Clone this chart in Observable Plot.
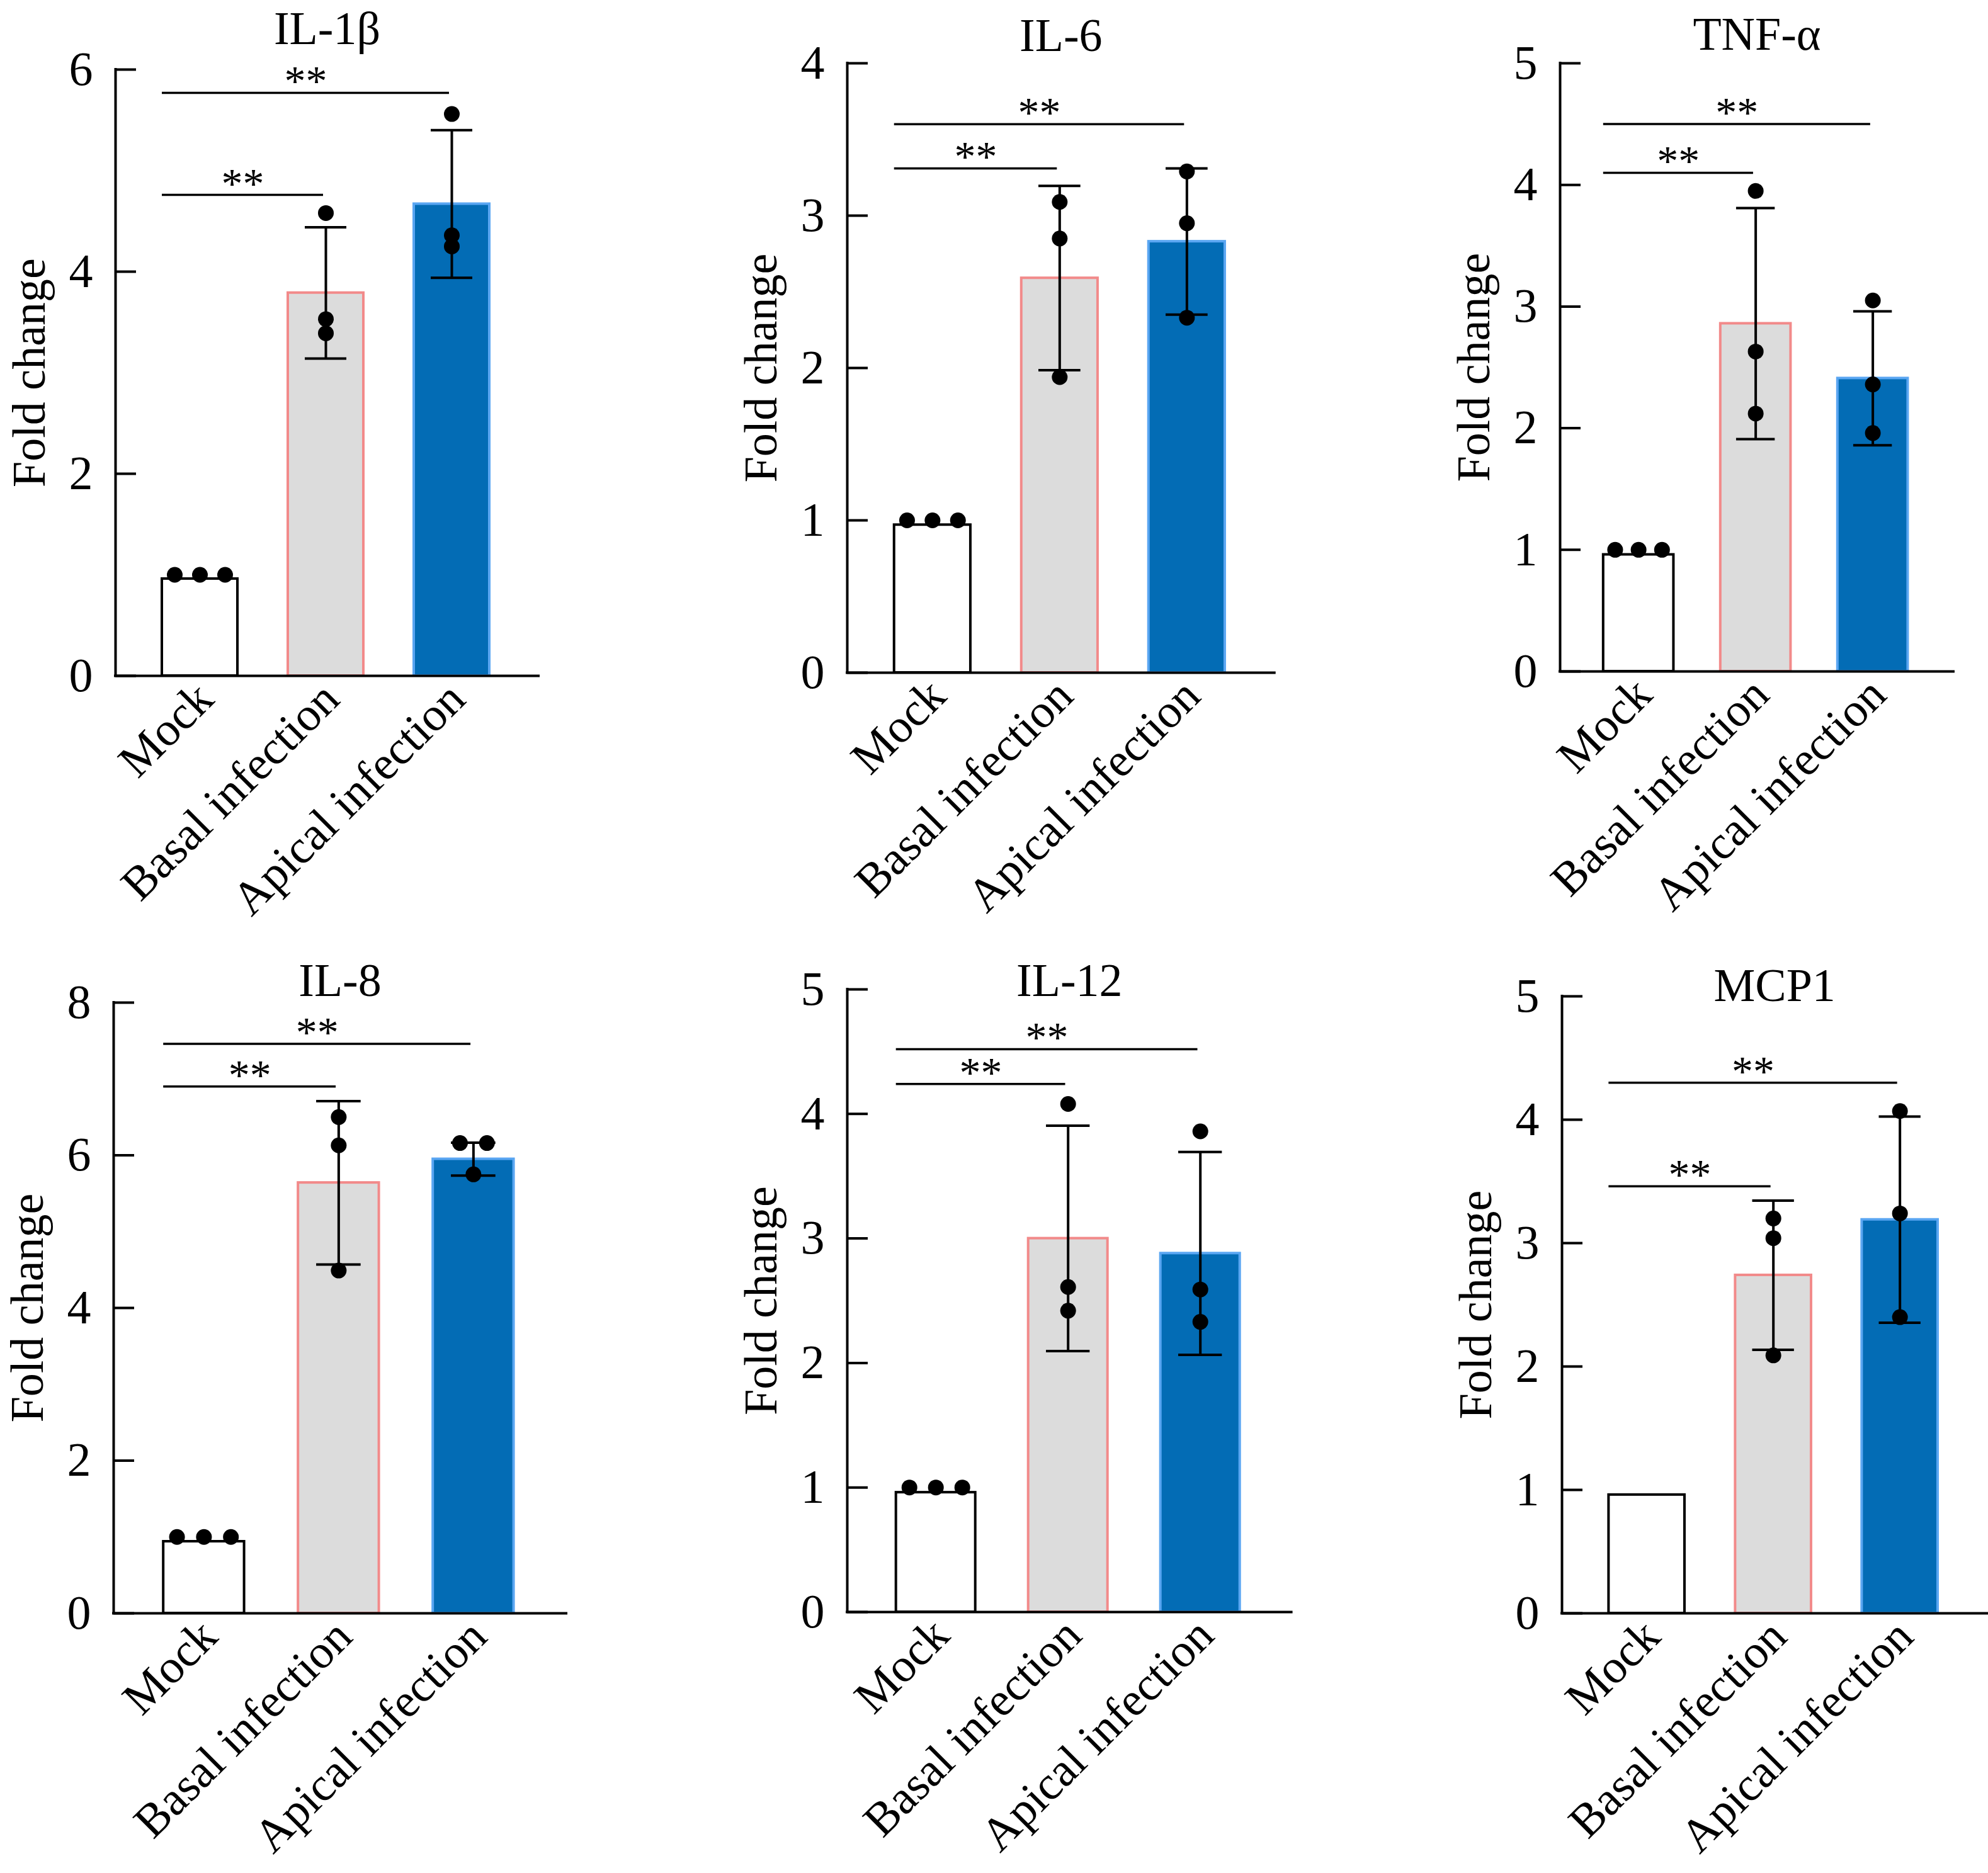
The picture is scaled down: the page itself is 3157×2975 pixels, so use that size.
<!DOCTYPE html>
<html><head><meta charset="utf-8">
<script src="https://cdn.jsdelivr.net/npm/d3@7"></script>
<script src="https://cdn.jsdelivr.net/npm/@observablehq/plot@0.6"></script>
<style>
html,body{margin:0;padding:0;background:#fff;}
#fig{position:relative;width:3157px;height:2975px;background:#fff;overflow:hidden;}
#fig svg{position:absolute;overflow:visible;max-width:none;}
</style></head><body><div id="fig"></div>
<script>
// ---------- data ----------
const categories = ["Mock", "Basal infection", "Apical infection"];
const cytokines = ["IL-1β", "IL-6", "TNF-α", "IL-8", "IL-12", "MCP1"];
const yMax = [6, 4, 5, 8, 5, 5];
const yTicks = [[0,2,4,6],[0,1,2,3,4],[0,1,2,3,4,5],[0,2,4,6,8],[0,1,2,3,4,5],[0,1,2,3,4,5]];
// bar heights (mean fold change) per cytokine: [Mock, Basal, Apical]
const means = [
  [0.96, 3.79, 4.67],
  [0.97, 2.59, 2.83],
  [0.96, 2.86, 2.41],
  [0.94, 5.64, 5.95],
  [0.96, 3.00, 2.88],
  [0.96, 2.74, 3.19]
];
// error bar half-lengths (SD)
const sds = [
  [0, 0.65, 0.73],
  [0, 0.605, 0.48],
  [0, 0.95, 0.55],
  [0, 1.07, 0.215],
  [0, 0.905, 0.815],
  [0, 0.605, 0.835]
];
// individual replicates
const replicates = [
  [[1, 1, 1], [4.58, 3.53, 3.39], [5.56, 4.36, 4.25]],
  [[1, 1, 1], [3.09, 2.85, 1.94], [3.29, 2.95, 2.33]],
  [[1, 1, 1], [3.95, 2.63, 2.12], [3.05, 2.36, 1.96]],
  [[1, 1, 1], [6.50, 6.13, 4.49], [6.16, 6.16, 5.75]],
  [[1, 1, 1], [4.08, 2.61, 2.42], [3.86, 2.59, 2.33]],
  [[], [3.20, 3.04, 2.09], [4.07, 3.24, 2.40]]
];
// significance bracket levels: [Mock vs Basal, Mock vs Apical]
const sigPairs = [[0, 1], [0, 2]];
const sigLevels = [[4.76, 5.77], [3.31, 3.60], [4.10, 4.50], [6.90, 7.46], [4.24, 4.52], [3.46, 4.30]];
const sigText = "**";

// ---------- styling / layout ----------
const fills = ["#ffffff", "#dcdcdc", "#036cb5"];
const strokes = ["#000000", "#f28a8a", "#5aa6f2"];
const layout = [
  {left: 183,  top: 110,  bottom: 1073, step: 200, title: 69},
  {left: 1345, top: 100,  bottom: 1068, step: 202, title: 81},
  {left: 2477, top: 100,  bottom: 1066, step: 186, title: 79},
  {left: 180,  top: 1592, bottom: 2562, step: 214, title: 1582},
  {left: 1345, top: 1571, bottom: 2560, step: 210, title: 1582},
  {left: 2480, top: 1582, bottom: 2562, step: 201, title: 1589}
];
const xDomain = [-0.67, 2.69];
const FONT = "'Liberation Serif', 'Times New Roman', Times, serif";
const mL = 200, mR = 4, mT = 140, mB = 460;

function spread(vals, pxPerUnit) {
  const off = vals.map(() => 0);
  if (!vals.length) return off;
  const idx = vals.map((v, k) => k).sort((a, b) => vals[a] - vals[b]);
  let cluster = [idx[0]];
  const flush = () => { const n = cluster.length; cluster.forEach((k, j) => off[k] = (j - (n - 1) / 2) * 0.2); };
  for (let j = 1; j < idx.length; j++) {
    if ((vals[idx[j]] - vals[cluster[cluster.length - 1]]) * pxPerUnit < 14) cluster.push(idx[j]);
    else { flush(); cluster = [idx[j]]; }
  }
  flush();
  return off;
}

const fig = document.getElementById("fig");
cytokines.forEach((name, p) => {
  const L = layout[p];
  const fw = (xDomain[1] - xDomain[0]) * L.step;
  const fh = L.bottom - L.top;
  const ppu = fh / yMax[p];
  const bars = categories.map((c, i) => ({i, mean: means[p][i], sd: sds[p][i]}));
  const errs = bars.filter(d => d.sd > 0);
  const caps = errs.flatMap(d => [{i: d.i, y: d.mean + d.sd}, {i: d.i, y: d.mean - d.sd}]);
  const dots = [];
  replicates[p].forEach((vals, i) => {
    const off = spread(vals, ppu);
    vals.forEach((v, k) => dots.push({x: i + off[k], v}));
  });
  const sig = sigPairs.map((pr, k) => ({from: pr[0], to: pr[1], y: sigLevels[p][k]}));

  const chart = Plot.plot({
    width: fw + mL + mR, height: fh + mT + mB,
    marginLeft: mL, marginRight: mR, marginTop: mT, marginBottom: mB,
    x: {domain: xDomain, axis: null},
    y: {domain: [0, yMax[p]], axis: null},
    color: {type: "identity"},
    style: {fontFamily: FONT, background: "transparent", overflow: "visible", color: "#000"},
    marks: [
      Plot.rect(bars, {x1: d => d.i - 0.3, x2: d => d.i + 0.3, y1: 0, y2: "mean",
        fill: d => fills[d.i], stroke: d => strokes[d.i], strokeWidth: 4}),
      Plot.ruleX(errs, {x: "i", y1: d => d.mean - d.sd, y2: d => d.mean + d.sd, stroke: "#000", strokeWidth: 4}),
      Plot.ruleY(caps, {y: "y", x1: d => d.i - 0.165, x2: d => d.i + 0.165, stroke: "#000", strokeWidth: 4}),
      Plot.dot(dots, {x: "x", y: "v", r: 12.5, fill: "#000", stroke: null}),
      Plot.ruleY(sig, {y: "y", x1: d => d.from - 0.3, x2: d => d.to - 0.02, stroke: "#000", strokeWidth: 3.5}),
      Plot.text(sig, {x: d => (d.from - 0.3 + d.to - 0.02) / 2, y: "y", text: () => sigText,
        fontSize: 68, lineAnchor: "bottom", dy: 4, fill: "#000"}),
      Plot.ruleY([0], {stroke: "#000", strokeWidth: 4, strokeLinecap: "square"}),
      Plot.ruleX([xDomain[0]], {y1: 0, y2: yMax[p], stroke: "#000", strokeWidth: 4, strokeLinecap: "square"}),
      Plot.axisY(yTicks[p], {tickSize: 33, dx: 33, tickFormat: () => "", strokeWidth: 4, stroke: "#000"}),
      Plot.axisY(yTicks[p], {tickSize: 0, tickPadding: 36, tickFormat: d => String(d), fontSize: 76, fill: "#000"}),
      Plot.axisX([0, 1, 2], {tickSize: 0, tickRotate: -45, tickPadding: 24, dx: 8, tickFormat: i => categories[i], fontSize: 75, fill: "#000"}),
      Plot.text(["Fold change"], {frameAnchor: "left", textAnchor: "middle", dx: -136, rotate: -90, fontSize: 74, fill: "#000"}),
      Plot.text([name], {frameAnchor: "top", textAnchor: "middle", dy: L.title - L.top, lineAnchor: "bottom", fontSize: 74, fill: "#000"})
    ]
  });
  chart.style.left = (L.left - mL) + "px";
  chart.style.top = (L.top - mT) + "px";
  fig.appendChild(chart);
});
</script>
</body></html>
